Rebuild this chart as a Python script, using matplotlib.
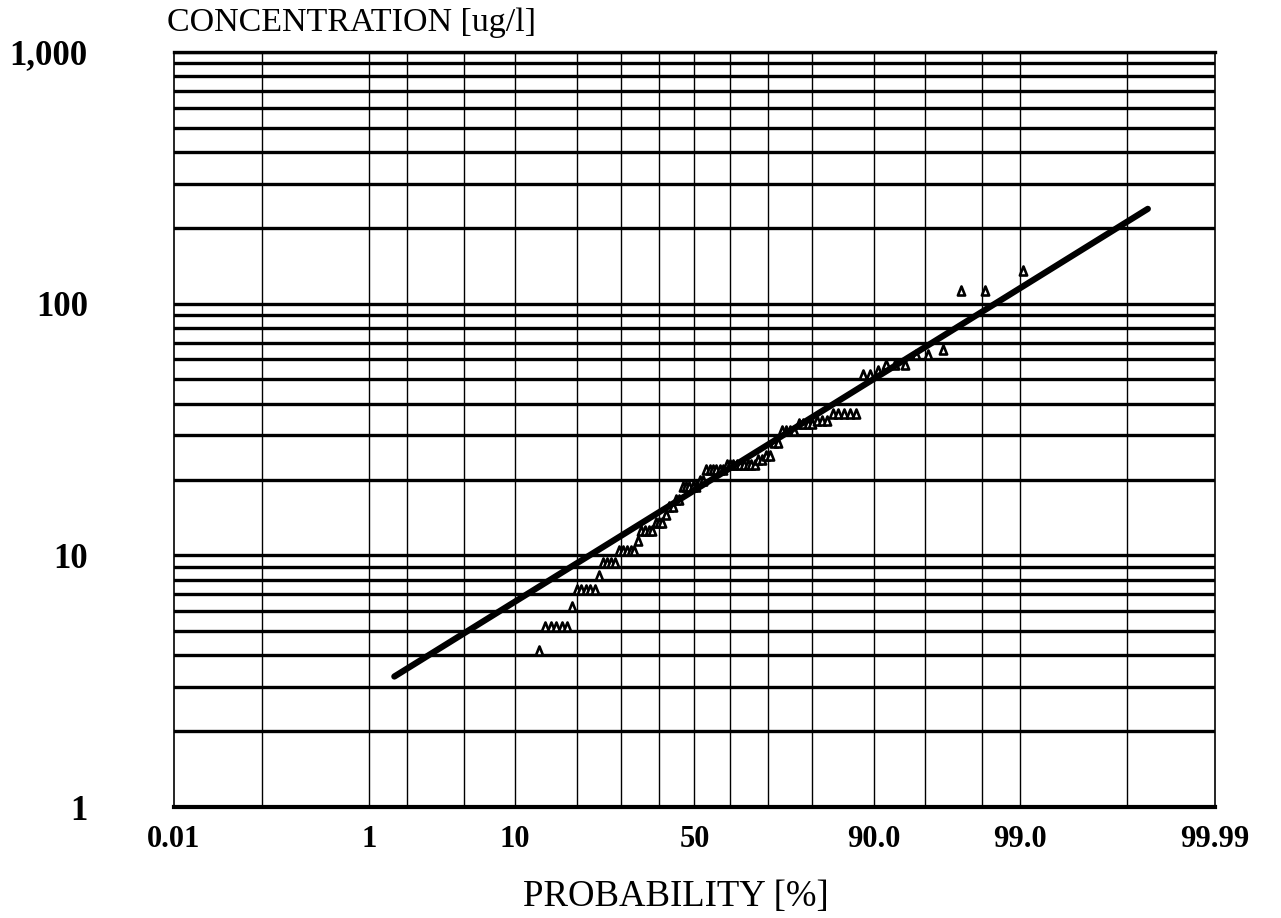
import numpy as np
import matplotlib
matplotlib.use("Agg")
import matplotlib.pyplot as plt
from matplotlib.path import Path
from statistics import NormalDist

# ---- data ----
prob_pct = [13.33, 14.29, 15.24, 16.19, 17.14, 18.10, 19.05, 20.00, 20.95, 21.90,
            22.86, 23.81, 24.76, 25.71, 26.67, 27.62, 28.57, 29.52, 30.48, 31.43,
            32.38, 33.33, 34.29, 35.24, 36.19, 37.14, 38.10, 39.05, 40.00, 40.95,
            41.90, 42.86, 43.81, 44.76, 45.71, 46.67, 47.62, 48.57, 49.52, 50.48,
            51.43, 52.38, 53.33, 54.29, 55.24, 56.19, 57.14, 58.10, 59.05, 60.00,
            60.95, 61.90, 62.86, 63.81, 64.76, 65.71, 66.67, 67.62, 68.57, 69.52,
            70.48, 71.43, 72.38, 73.33, 74.29, 75.24, 76.19, 77.14, 78.10, 79.05,
            80.00, 80.95, 81.90, 82.86, 83.81, 84.76, 85.71, 86.67, 87.62, 88.57,
            89.52, 90.48, 91.43, 92.38, 93.33, 94.29, 95.24, 96.19, 97.14, 98.10,
            99.05]
concentration = [4, 5, 5, 5, 5, 5, 6, 7, 7, 7,
                 7, 7, 8, 9, 9, 9, 9, 10, 10, 10,
                 10, 10, 11, 12, 12, 12, 12, 13, 13, 13,
                 14, 15, 15, 16, 16, 18, 18, 18, 18, 18,
                 19, 19, 21, 21, 21, 21, 21, 21, 22, 22,
                 22, 22, 22, 22, 22, 22, 22, 23, 23, 24,
                 24, 27, 27, 30, 30, 30, 30, 32, 32, 32,
                 32, 33, 33, 33, 35, 35, 35, 35, 35, 50,
                 50, 52, 55, 55, 55, 60, 60, 63, 108, 108,
                 130]

fit_prob = [1.6, 99.94]
fit_conc = [3.3, 238]

x_ticks = [0.01, 1, 10, 50, 90, 99, 99.99]
x_tick_labels = ["0.01", "1", "10", "50", "90.0", "99.0", "99.99"]
x_grid = [0.1, 1, 2, 5, 10, 20, 30, 40, 50, 60, 70, 80, 90, 95, 98, 99, 99.9]
y_ticks = [1, 10, 100, 1000]
y_tick_labels = ["1", "10", "100", "1,000"]
y_grid = [m * 10 ** k for k in range(3) for m in range(2, 10)] + [10, 100, 1000]

# ---- probability scale ----
_nd = NormalDist()
_ppf = np.vectorize(_nd.inv_cdf, otypes=[float])
_cdf = np.vectorize(_nd.cdf, otypes=[float])


def fwd(p):
    p = np.asarray(p, dtype=float)
    q = np.clip(p / 100.0, 1e-12, 1 - 1e-12)
    return _ppf(q)


def inv(z):
    z = np.asarray(z, dtype=float)
    return _cdf(z) * 100.0


serif = ["Liberation Serif", "DejaVu Serif"]
plt.rcParams["font.family"] = serif

fig = plt.figure(figsize=(12.81, 9.18), dpi=100)
ax = fig.add_axes([0.1358, 0.1209, 0.9485 - 0.1358, 0.9434 - 0.1209])
ax.set_xscale("function", functions=(fwd, inv))
ax.set_yscale("log")
ax.set_xlim(0.01, 99.99)
ax.set_ylim(1, 1000)

for g in y_grid:
    ax.axhline(g, color="black", lw=2.4, zorder=1)
for g in x_grid:
    ax.axvline(g, color="black", lw=1.0, zorder=1)

tri = Path([(-0.4, 0.0), (0.4, 0.0), (0.0, 1.0), (-0.4, 0.0)],
           [Path.MOVETO, Path.LINETO, Path.LINETO, Path.CLOSEPOLY])
ax.plot(prob_pct, concentration, linestyle="none", marker=tri, markersize=13,
        markerfacecolor="white", markeredgecolor="black", markeredgewidth=1.9,
        zorder=3)
ax.plot(fit_prob, fit_conc, color="black", lw=4.5, solid_capstyle="round", zorder=4)

ax.set_xticks(x_ticks)
ax.set_xticklabels(x_tick_labels)
ax.xaxis.set_minor_locator(matplotlib.ticker.NullLocator())
ax.set_yticks(y_ticks)
ax.set_yticklabels(y_tick_labels)
ax.yaxis.set_minor_locator(matplotlib.ticker.NullLocator())
ax.tick_params(axis="x", length=0, pad=13, labelsize=22)
ax.tick_params(axis="y", length=0, pad=62, labelsize=25)
for lab in ax.get_xticklabels() + ax.get_yticklabels():
    lab.set_fontweight("bold")

for s in ["left", "right"]:
    ax.spines[s].set_linewidth(1.2)
ax.spines["bottom"].set_linewidth(3.0)
ax.spines["top"].set_linewidth(2.4)

fig.text(0.130, 0.975, "CONCENTRATION [ug/l]", fontsize=24.5, ha="left", va="center")
fig.text(0.528, 0.023, "PROBABILITY [%]", fontsize=26.5, ha="center", va="center")

fig.savefig("out.png", dpi=100, facecolor="white")
